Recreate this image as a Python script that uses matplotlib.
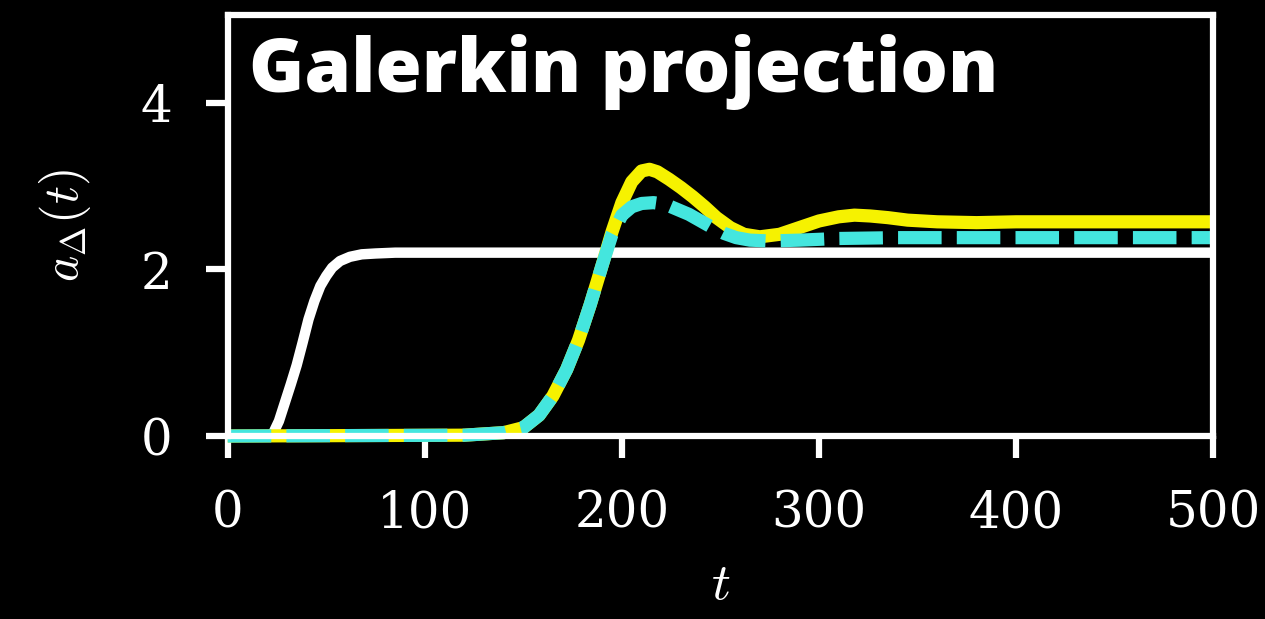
import numpy as np
import matplotlib
matplotlib.use("Agg")
import matplotlib.pyplot as plt

plt.rcParams["mathtext.fontset"] = "cm"

# white curve (reference)
t_white = [0, 20, 23, 26, 29, 32, 35, 38, 41, 44, 47, 50, 53, 57, 62, 68, 75, 85, 500]
a_white = [0, 0, 0.03, 0.18, 0.4, 0.62, 0.85, 1.12, 1.4, 1.62, 1.8, 1.92, 2.02, 2.1,
           2.15, 2.18, 2.19, 2.2, 2.2]

# yellow curve
t_yellow = [0, 120, 140, 150, 158, 165, 172, 178, 184, 190, 195, 200, 205, 210, 214,
            218, 224, 230, 236, 242, 248, 255, 262, 270, 280, 290, 300, 310, 318, 326,
            335, 345, 360, 380, 400, 500]
a_yellow = [0, 0.01, 0.04, 0.1, 0.25, 0.48, 0.8, 1.15, 1.58, 2.05, 2.45, 2.8, 3.05, 3.18,
            3.2, 3.17, 3.08, 2.98, 2.87, 2.75, 2.62, 2.5, 2.42, 2.39, 2.42, 2.5, 2.58, 2.63,
            2.65, 2.64, 2.62, 2.59, 2.57, 2.56, 2.57, 2.57]

# cyan dashed curve
t_cyan = [0, 120, 140, 150, 158, 165, 172, 178, 184, 190, 195, 200, 205, 210, 216, 222,
          228, 234, 240, 246, 252, 258, 265, 275, 290, 310, 340, 500]
a_cyan = [0, 0.01, 0.04, 0.1, 0.25, 0.48, 0.8, 1.15, 1.58, 2.05, 2.42, 2.65, 2.75, 2.79,
          2.8, 2.78, 2.72, 2.66, 2.58, 2.5, 2.43, 2.38, 2.35, 2.34, 2.35, 2.37, 2.38, 2.38]

x_ticks = [0, 100, 200, 300, 400, 500]
y_ticks = [0, 2, 4]

fig = plt.figure(figsize=(12.65, 6.19), dpi=100, facecolor="black")
ax = fig.add_axes([0.180, 0.2956, 0.779, 0.680])
ax.set_facecolor("black")

ax.plot(t_white, a_white, color="white", lw=7.5, solid_capstyle="butt", clip_on=False)
ax.plot(t_yellow, a_yellow, color="#f6f200", lw=9.5, solid_capstyle="butt", clip_on=False)
ax.plot(t_cyan, a_cyan, color="#44e6de", lw=9.5, dashes=(3.3, 1.15), clip_on=False)

ax.set_xlim(0, 500)
ax.set_ylim(0, 5.05)
ax.set_xticks(x_ticks)
ax.set_yticks(y_ticks)

for s in ax.spines.values():
    s.set_color("white")
    s.set_linewidth(4.5)
ax.tick_params(colors="white", width=4.5, length=16, labelsize=36)
ax.tick_params(axis="x", pad=22)
ax.tick_params(axis="y", pad=24)
for lab in ax.get_xticklabels() + ax.get_yticklabels():
    lab.set_family("DejaVu Serif")

ax.set_xlabel(r"$t$", color="white", fontsize=38, labelpad=14)
ax.set_ylabel(r"$a_\Delta(t)$", color="white", fontsize=36, labelpad=34)

ax.text(0.022, 0.817, "Galerkin projection", transform=ax.transAxes, color="white",
        fontsize=54, fontweight="heavy", family="Open Sans", va="baseline", ha="left")

fig.savefig("out.png", dpi=100, facecolor="black")
